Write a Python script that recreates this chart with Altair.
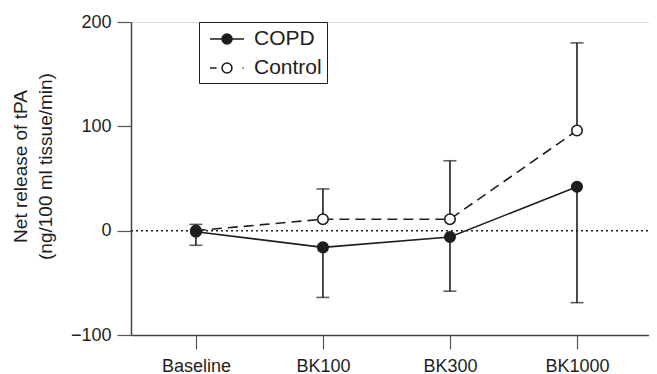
import altair as alt
import pandas as pd

categories = ["Baseline", "BK100", "BK300", "BK1000"]
series_names = ["COPD", "Control"]
copd_mean = [-1, -16, -6, 42]
copd_lower = [-14, -64, -58, -69]
copd_upper = [6, None, None, None]
control_mean = [0, 11, 11, 96]
control_upper = [None, 40, 67, 180]
y_ticks = [-100, 0, 100, 200]

INK = "#1e1e1e"
FONT = "Liberation Sans"

means = []
errs = []
caps = []
for c, m, lo, hi in zip(categories, copd_mean, copd_lower, copd_upper):
    means.append({"cat": c, "series": "COPD", "v": m})
    for b in (lo, hi):
        if b is not None:
            errs.append({"cat": c, "series": "COPD", "v": m, "b": b})
            caps.append({"cat": c, "series": "COPD", "b": b})
for c, m, hi in zip(categories, control_mean, control_upper):
    means.append({"cat": c, "series": "Control", "v": m})
    if hi is not None:
        errs.append({"cat": c, "series": "Control", "v": m, "b": hi})
        caps.append({"cat": c, "series": "Control", "b": hi})

means = pd.DataFrame(means)
errs = pd.DataFrame(errs)
caps = pd.DataFrame(caps)

xscale = alt.Scale(type="point", domain=categories, padding=0.539, align=0.474)
yscale = alt.Scale(domain=[-100, 200], nice=False, zero=False)

X = alt.X("cat:N", scale=xscale, sort=categories,
          axis=alt.Axis(title=None, labelAngle=0, labelAlign="center", labelBaseline="top",
                        tickSize=14, labelPadding=8,
                        labelFontSize=18, labelFont=FONT, labelColor=INK,
                        domainColor="#444", domainWidth=1.5, tickColor="#555",
                        tickWidth=1.2, grid=False))
Y = alt.Y("v:Q", scale=yscale,
          axis=alt.Axis(values=y_ticks, tickSize=14, labelPadding=6, labelFontSize=18,
                        labelFont=FONT, labelColor=INK, domainColor="#444",
                        domainWidth=1.5, tickColor="#555", tickWidth=1.2, grid=False,
                        title=["Net release of tPA", "(ng/100 ml tissue/min)"],
                        titleFont=FONT, titleFontSize=19, titleFontWeight="normal",
                        titleColor=INK, titleX=-105, titleY=144, titleAlign="center",
                        titleBaseline="alphabetic", titleLineHeight=25, titleAngle=270))

zero = alt.Chart(pd.DataFrame({"v": [0]})).mark_rule(
    color=INK, strokeWidth=1.5, strokeDash=[2, 3]
).encode(y=alt.Y("v:Q", scale=yscale), x=alt.value(0), x2=alt.value(540))

err_rules = alt.Chart(errs).mark_rule(color=INK, strokeWidth=1.6).encode(
    x=alt.X("cat:N", scale=xscale), y=alt.Y("v:Q", scale=yscale), y2="b:Q")

cap_ticks = alt.Chart(caps).mark_tick(color=INK, orient="horizontal", size=13,
                                      thickness=1.6).encode(
    x=alt.X("cat:N", scale=xscale), y=alt.Y("b:Q", scale=yscale))

line_copd = alt.Chart(means).transform_filter(alt.datum.series == "COPD").mark_line(
    color=INK, strokeWidth=1.6).encode(x=X, y=Y)
line_ctrl = alt.Chart(means).transform_filter(alt.datum.series == "Control").mark_line(
    color=INK, strokeWidth=1.6, strokeDash=[10, 6]).encode(x=X, y=Y)

pts_ctrl = alt.Chart(means).transform_filter(alt.datum.series == "Control").mark_point(
    filled=True, fill="white", stroke=INK, strokeWidth=1.6, size=110, opacity=1
).encode(x=X, y=Y)
pts_copd = alt.Chart(means).transform_filter(alt.datum.series == "COPD").mark_point(
    filled=True, fill=INK, stroke=INK, strokeWidth=1.6, size=110, opacity=1
).encode(x=X, y=Y)

path_copd = "M-1.545,0H1.545M0.45,0A0.45,0.45,0,1,1,-0.45,0A0.45,0.45,0,1,1,0.45,0Z"
path_ctrl = ("M-1.545,0H-0.95M0.45,0A0.45,0.45,0,1,1,-0.45,0A0.45,0.45,0,1,1,0.45,0Z"
             "M1.42,0H1.52")

legend_layer = alt.Chart(means).transform_filter("false").mark_point(
    filled=True, stroke=INK, strokeWidth=1.6, opacity=1
).encode(
    x=X, y=Y,
    fill=alt.Fill("series:N", scale=alt.Scale(domain=series_names, range=[INK, "white"]),
                  legend=alt.Legend(title=None, orient="none", legendX=68, legendY=0,
                                    strokeColor=INK, padding=5, symbolSize=484,
                                    symbolOffset=11,
                                    symbolStrokeColor=INK, symbolStrokeWidth=1.6,
                                    symbolOpacity=1, labelFontSize=21, labelFont=FONT,
                                    labelColor=INK, labelOffset=15, rowPadding=7)),
    shape=alt.Shape("series:N", scale=alt.Scale(domain=series_names,
                                                range=[path_copd, path_ctrl]),
                    legend=alt.Legend(title=None, orient="none", legendX=68, legendY=0)),
)

chart = alt.layer(zero, err_rules, cap_ticks, line_ctrl, line_copd, pts_ctrl, pts_copd,
                  legend_layer).properties(
    width=518, height=313,
    autosize=alt.AutoSizeParams(type="none"),
    padding={"left": 123, "top": 14, "right": 0, "bottom": 39},
).configure_view(stroke=None).configure(background="white")

chart.save("out.html", embed_options={"renderer": "svg", "actions": False})
